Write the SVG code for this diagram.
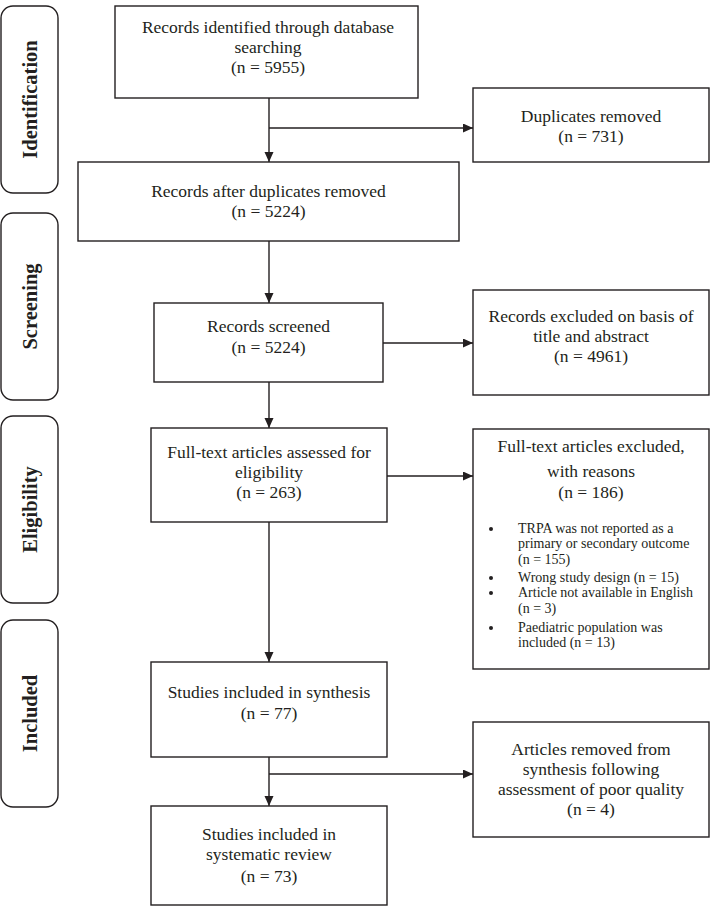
<svg xmlns="http://www.w3.org/2000/svg" width="712" height="906" viewBox="0 0 712 906">
<defs>
<marker id="ah" markerUnits="userSpaceOnUse" markerWidth="10" markerHeight="10" refX="10" refY="4.5" orient="auto">
<path d="M0,0 L10,4.5 L0,9 Z" fill="#231f20"/>
</marker>
<style>
.box{fill:#fff;stroke:#231f20;stroke-width:1.4}
.side{fill:#fff;stroke:#231f20;stroke-width:1.4}
.t{font-family:"Liberation Serif","Times New Roman",serif;font-size:17.5px;fill:#231f20;text-anchor:middle}
.b{font-family:"Liberation Serif","Times New Roman",serif;font-size:14px;fill:#231f20}
.s{font-family:"Liberation Serif","Times New Roman",serif;font-size:20.5px;font-weight:bold;fill:#231f20;text-anchor:middle}
.c{fill:none;stroke:#231f20;stroke-width:1.4}
</style>
</defs>
<rect width="712" height="906" fill="#fff"/>

<g id="stage-identification">
<rect class="side" x="1" y="6" width="57" height="187" rx="12"/>
<text class="s" transform="translate(37,99.5) rotate(-90)">Identification</text>
</g>
<g id="stage-screening">
<rect class="side" x="1" y="213" width="57" height="187" rx="12"/>
<text class="s" transform="translate(37,306.5) rotate(-90)">Screening</text>
</g>
<g id="stage-eligibility">
<rect class="side" x="1" y="416" width="57" height="187" rx="12"/>
<text class="s" transform="translate(37,509.5) rotate(-90)">Eligibility</text>
</g>
<g id="stage-included">
<rect class="side" x="1" y="620" width="57" height="187" rx="12"/>
<text class="s" transform="translate(37,713.5) rotate(-90)">Included</text>
</g>

<g id="connectors">
<line class="c" x1="269" y1="98" x2="269" y2="162" marker-end="url(#ah)"/>
<line class="c" x1="269" y1="128" x2="473" y2="128" marker-end="url(#ah)"/>
<line class="c" x1="269" y1="241" x2="269" y2="303" marker-end="url(#ah)"/>
<line class="c" x1="383" y1="343" x2="473" y2="343" marker-end="url(#ah)"/>
<line class="c" x1="269" y1="382" x2="269" y2="428" marker-end="url(#ah)"/>
<line class="c" x1="387" y1="476" x2="473" y2="476" marker-end="url(#ah)"/>
<line class="c" x1="269" y1="522" x2="269" y2="662" marker-end="url(#ah)"/>
<line class="c" x1="269" y1="757" x2="269" y2="806" marker-end="url(#ah)"/>
<line class="c" x1="269" y1="774" x2="473" y2="774" marker-end="url(#ah)"/>
</g>

<g id="identified">
<rect class="box" x="115" y="6" width="303" height="92"/>
<text class="t" x="268" y="33">Records identified through database</text>
<text class="t" x="268" y="53">searching</text>
<text class="t" x="268" y="73">(n = 5955)</text>
</g>
<g id="duplicates">
<rect class="box" x="473" y="88" width="236" height="74"/>
<text class="t" x="591" y="122">Duplicates removed</text>
<text class="t" x="591" y="142">(n = 731)</text>
</g>
<g id="after-duplicates">
<rect class="box" x="78" y="162" width="381" height="79"/>
<text class="t" x="268.5" y="197">Records after duplicates removed</text>
<text class="t" x="268.5" y="217">(n = 5224)</text>
</g>
<g id="screened">
<rect class="box" x="154" y="303" width="229" height="79"/>
<text class="t" x="268.5" y="332">Records screened</text>
<text class="t" x="268.5" y="353">(n = 5224)</text>
</g>
<g id="excluded-title">
<rect class="box" x="473" y="290" width="236" height="105"/>
<text class="t" x="591" y="322">Records excluded on basis of</text>
<text class="t" x="591" y="342">title and abstract</text>
<text class="t" x="591" y="362">(n = 4961)</text>
</g>
<g id="fulltext-assessed">
<rect class="box" x="151" y="428" width="236" height="94"/>
<text class="t" x="269" y="458">Full-text articles assessed for</text>
<text class="t" x="269" y="478">eligibility</text>
<text class="t" x="269" y="498">(n = 263)</text>
</g>
<g id="fulltext-excluded">
<rect class="box" x="473" y="429" width="236" height="240"/>
<text class="t" x="591" y="452">Full-text articles excluded,</text>
<text class="t" x="591" y="477">with reasons</text>
<text class="t" x="591" y="498">(n = 186)</text>
<circle cx="491" cy="529" r="2" fill="#231f20"/>
<text class="b" x="518" y="533">TRPA was not reported as a</text>
<text class="b" x="518" y="548">primary or secondary outcome</text>
<text class="b" x="518" y="564">(n = 155)</text>
<circle cx="491" cy="578" r="2" fill="#231f20"/>
<text class="b" x="518" y="582">Wrong study design (n = 15)</text>
<circle cx="491" cy="593" r="2" fill="#231f20"/>
<text class="b" x="518" y="597">Article not available in English</text>
<text class="b" x="518" y="613">(n = 3)</text>
<circle cx="491" cy="628" r="2" fill="#231f20"/>
<text class="b" x="518" y="632">Paediatric population was</text>
<text class="b" x="518" y="647">included (n = 13)</text>
</g>
<g id="included-synthesis">
<rect class="box" x="151" y="662" width="236" height="95"/>
<text class="t" x="269" y="698">Studies included in synthesis</text>
<text class="t" x="269" y="719">(n = 77)</text>
</g>
<g id="removed-quality">
<rect class="box" x="473" y="722" width="236" height="115"/>
<text class="t" x="591" y="755">Articles removed from</text>
<text class="t" x="591" y="775">synthesis following</text>
<text class="t" x="591" y="795">assessment of poor quality</text>
<text class="t" x="591" y="815">(n = 4)</text>
</g>
<g id="included-review">
<rect class="box" x="151" y="806" width="236" height="99"/>
<text class="t" x="269" y="840">Studies included in</text>
<text class="t" x="269" y="860">systematic review</text>
<text class="t" x="269" y="882">(n = 73)</text>
</g>
</svg>
